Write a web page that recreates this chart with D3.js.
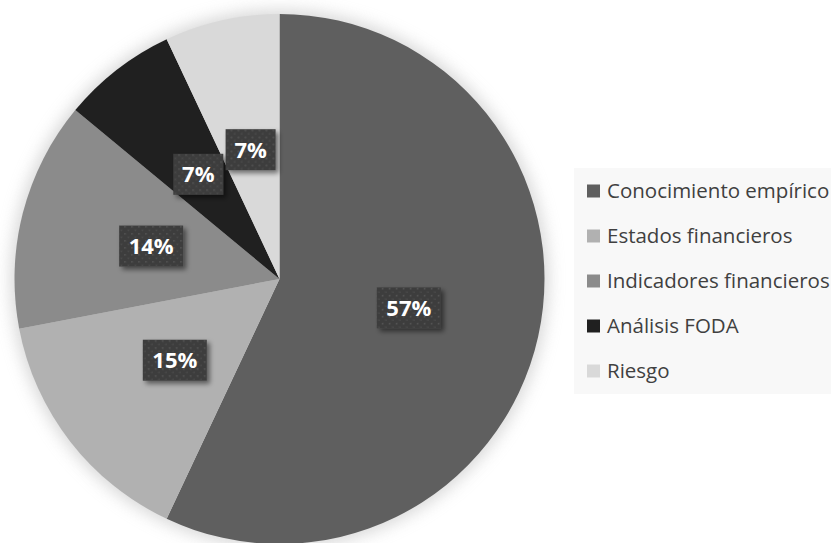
<!DOCTYPE html>
<html>
<head>
<meta charset="utf-8">
<script src="https://cdn.jsdelivr.net/npm/d3@7"></script>
<style>
  html, body { margin: 0; padding: 0; background: #ffffff; }
  svg { display: block; }
</style>
</head>
<body>
<svg id="chart" width="831" height="543"></svg>
<script>
const categories = ["Conocimiento empírico", "Estados financieros", "Indicadores financieros", "Análisis FODA", "Riesgo"];
const values = [57, 15, 14, 7, 7];
const colors = ["#5f5f5f", "#b1b1b1", "#8b8b8b", "#202020", "#d9d9d9"];
const labels = ["57%", "15%", "14%", "7%", "7%"];

const W = 831, H = 543;
const cx = 279.5, cy = 279, R = 265;

const svg = d3.select("#chart");
const defs = svg.append("defs");

// soft glow behind pie
const glow = defs.append("filter").attr("id", "glow")
  .attr("x", "-20%").attr("y", "-20%").attr("width", "140%").attr("height", "140%");
glow.append("feGaussianBlur").attr("stdDeviation", 8);

// shadow for labels
const sh = defs.append("filter").attr("id", "lblshadow")
  .attr("x", "-30%").attr("y", "-30%").attr("width", "160%").attr("height", "160%");
sh.append("feGaussianBlur").attr("in", "SourceAlpha").attr("stdDeviation", 2.5).attr("result", "b");
sh.append("feOffset").attr("in", "b").attr("dx", 2.5).attr("dy", 2.5).attr("result", "o");
sh.append("feComponentTransfer").attr("in", "o").attr("result", "oa")
  .append("feFuncA").attr("type", "linear").attr("slope", 0.5);
const m = sh.append("feMerge");
m.append("feMergeNode").attr("in", "oa");
m.append("feMergeNode").attr("in", "SourceGraphic");

// dotted pattern for label boxes
const pat = defs.append("pattern").attr("id", "dots")
  .attr("patternUnits", "userSpaceOnUse").attr("width", 7).attr("height", 7);
pat.append("rect").attr("width", 7).attr("height", 7).attr("fill", "#3e3e3e");
pat.append("rect").attr("x", 1).attr("y", 1).attr("width", 1.5).attr("height", 1.5).attr("fill", "#555555");
pat.append("rect").attr("x", 4.5).attr("y", 4.5).attr("width", 1.5).attr("height", 1.5).attr("fill", "#4a4a4a");

// legend background
const legX = 574, legY = 168, legW = W - 574, legH = 226;
svg.append("rect").attr("x", legX).attr("y", legY).attr("width", legW).attr("height", legH)
  .attr("fill", "#f8f8f8");

// pie glow
svg.append("circle").attr("cx", cx).attr("cy", cy).attr("r", R + 4)
  .attr("fill", "#b8b8b8").attr("opacity", 0.55).attr("filter", "url(#glow)");

const pie = d3.pie().sort(null).value(d => d)(values);
const arc = d3.arc().innerRadius(0).outerRadius(R);
const labelArc = d3.arc().innerRadius(R * 0.5).outerRadius(R * 0.5);

const g = svg.append("g").attr("transform", `translate(${cx},${cy})`);
g.selectAll("path.slice").data(pie).join("path")
  .attr("class", "slice")
  .attr("d", arc)
  .attr("fill", (d, i) => colors[i]);

// labels
const lg = g.selectAll("g.lbl").data(pie).join("g")
  .attr("class", "lbl")
  .attr("transform", d => `translate(${labelArc.centroid(d)})`);
lg.each(function(d, i) {
  const s = d3.select(this);
  const bw = labels[i].length > 2 ? 64 : 50;
  const bh = 41;
  s.append("rect").attr("x", -bw / 2).attr("y", -bh / 2).attr("width", bw).attr("height", bh)
    .attr("fill", "url(#dots)").attr("filter", "url(#lblshadow)");
  s.append("text").attr("text-anchor", "middle").attr("dy", "0.36em")
    .attr("font-family", "'Open Sans', sans-serif").attr("font-weight", "bold")
    .attr("font-size", 22).attr("fill", "#ffffff")
    .text(labels[i]);
});

// legend
const leg = svg.append("g");
const itemY = d3.scalePoint().domain(categories).range([191, 371]);
const li = leg.selectAll("g").data(categories).join("g")
  .attr("transform", d => `translate(587,${itemY(d)})`);
li.append("rect").attr("x", 0).attr("y", -6.5).attr("width", 13).attr("height", 13)
  .attr("fill", (d, i) => colors[i]);
li.append("text").attr("x", 20).attr("dy", "0.36em")
  .attr("font-family", "'Open Sans', sans-serif").attr("font-size", 20.5)
  .attr("fill", "#404040")
  .text(d => d);
</script>
</body>
</html>
